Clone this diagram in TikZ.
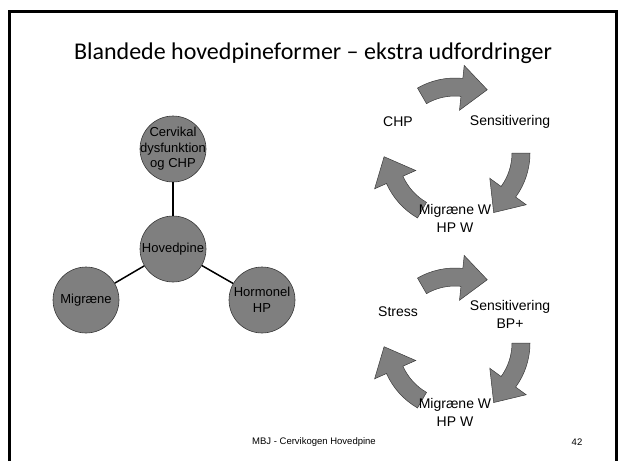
\documentclass[tikz,border=0pt]{standalone}
\usepackage{fontspec}
\setmainfont{Liberation Sans}
\newfontfamily\titlefont{Carlito}
\usetikzlibrary{calc}
\definecolor{shapefill}{HTML}{7F7F7F}
\definecolor{shapeedge}{HTML}{3A3A3A}
\newcommand\cycarrow[3]{%
  \filldraw[fill=shapefill, draw=shapeedge, line width=0.5pt, line join=miter]
  ($(#1,#2)+({-(#3)}:75)$) arc[start angle={-(#3)}, end angle={-(#3)+36}, radius=75]
  -- ($(#1,#2)+({-(#3)+36}:88)$) -- ($(#1,#2)+({-(#3)+57}:71)$)
  -- ($(#1,#2)+({-(#3)+36}:43)$) -- ($(#1,#2)+({-(#3)+36}:57)$)
  arc[start angle={-(#3)+36}, end angle={-(#3)}, radius=57] -- cycle;}
\begin{document}
\begin{tikzpicture}[x=1pt,y=-1pt,
  circ/.style={circle, draw=shapeedge, fill=shapefill, minimum size=66pt, inner sep=0pt, line width=0.6pt},
  clab/.style={align=center, font=\fontsize{13}{15.5}\selectfont, inner sep=0pt},
  cyc/.style={align=center, font=\fontsize{14}{18}\selectfont, inner sep=0pt},
  conn/.style={draw=black, line width=1.5pt}]
\useasboundingbox (0,0) rectangle (620,461);
\draw[line width=3pt] (9.5,461) -- (9.5,11.5) -- (616.5,11.5) -- (616.5,461);
\node[font=\titlefont\fontsize{24}{28}\selectfont, anchor=base, inner sep=0pt] (title) at (313,59.3) {Blandede hovedpineformer – ekstra udfordringer};
% left graph
\node[circ, label={[clab]center:Cervikal\\dysfunktion\\og CHP}] (cerv) at (173,149) {};
\node[circ, label={[clab]center:Hovedpine}] (hov) at (173,249) {};
\node[circ, label={[clab]center:Migræne}] (mig) at (86,300) {};
\node[circ, label={[clab]center:Hormonel\\HP}] (horm) at (262,300) {};
\draw[conn] (hov) -- (cerv);
\draw[conn] (hov) -- (mig);
\draw[conn] (hov) -- (horm);
% cycle 1
\cycarrow{455}{153}{120}
\cycarrow{455}{153}{0}
\cycarrow{455}{153}{240}
\node[cyc] (chp) at (398,122) {CHP};
\node[cyc] (sens1) at (510,122) {Sensitivering};
\node[cyc] (mig1) at (455,218) {Migræne W\\HP W};
% cycle 2
\cycarrow{455}{343}{120}
\cycarrow{455}{343}{0}
\cycarrow{455}{343}{240}
\node[cyc] (stress) at (398,312) {Stress};
\node[cyc] (sens2) at (510,314) {Sensitivering\\BP+};
\node[cyc] (mig2) at (455,412) {Migræne W\\HP W};
% footer
\node[font=\fontsize{9.5}{11}\selectfont, inner sep=0pt] (foot) at (314,442) {MBJ - Cervikogen Hovedpine};
\node[font=\fontsize{9.5}{11}\selectfont, inner sep=0pt] (num) at (577,442) {42};
\end{tikzpicture}
\end{document}
